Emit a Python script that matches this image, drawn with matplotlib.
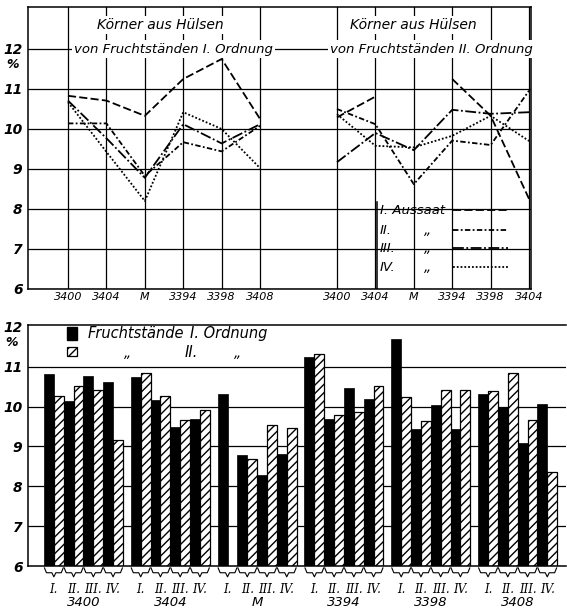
import numpy as np
import matplotlib.pyplot as plt
from matplotlib.patches import Rectangle
from matplotlib.transforms import blended_transform_factory

plt.rcParams['font.family'] = ['Liberation Sans Narrow', 'DejaVu Sans']
plt.rcParams['font.style'] = 'italic'
plt.rcParams['hatch.linewidth'] = 1.0

# Sorten (x-Achse)
sorten_1 = ['3400', '3404', 'M', '3394', '3398', '3408']
sorten_2 = ['3400', '3404', 'M', '3394', '3398', '3404']
aussaat = ['I.', 'II.', 'III.', 'IV.']

# oben links: Körner aus Hülsen von Fruchtständen I. Ordnung, je Aussaat
links_I = [10.83, 10.71, 10.33, 11.25, 11.75, 10.25]
links_II = [10.14, 10.14, 8.83, 9.67, 9.44, 10.08]
links_III = [10.71, 9.77, 8.78, 10.12, 9.64, 10.12]
links_IV = [10.67, 9.43, 8.20, 10.42, 10.00, 9.02]

# oben rechts: Fruchtstände II. Ordnung
rechts_I = [10.29, 10.81, np.nan, 11.25, 10.33, 8.25]
rechts_II = [10.50, 10.12, 8.62, 9.71, 9.60, 10.96]
rechts_III = [9.17, 9.90, 9.47, 10.48, 10.38, 10.42]
rechts_IV = [10.37, 9.58, 9.54, 9.83, 10.33, 9.70]

# unten: Säulen je Sorte (Zeilen) und Aussaat I.-IV. (Spalten)
fs1_werte = [
    [10.82, 10.15, 10.78, 10.63],
    [10.75, 10.16, 9.49, 9.68],
    [10.31, 8.78, 8.28, 8.80],
    [11.24, 9.70, 10.46, 10.18],
    [11.71, 9.45, 10.04, 9.45],
    [10.33, 10.00, 9.08, 10.07],
]
fs2_werte = [
    [10.26, 10.52, 10.42, 9.17],
    [10.85, 10.27, 9.66, 9.92],
    [np.nan, 8.69, 9.54, 9.46],
    [11.33, 9.78, 9.86, 10.53],
    [10.24, 9.65, 10.41, 10.41],
    [10.39, 10.84, 9.67, 8.36],
]

stile = [(0, (4.5, 1.8)), (0, (3, 1.3, 1, 1.3)), (0, (6, 1.4, 1, 1.4)), (0, (1, 1.1))]
lw = 1.3

fig = plt.figure(figsize=(5.67, 6.16), dpi=100)

# ---------- oberes Diagramm ----------
ax = fig.add_axes([28 / 567, 1 - 289 / 616, 503 / 567, 282 / 616])
xl = np.arange(6)
xr = np.arange(6) + 7
links = [links_I, links_II, links_III, links_IV]
rechts = [rechts_I, rechts_II, rechts_III, rechts_IV]
for i in range(4):
    ax.plot(xl, links[i], color='black', lw=lw, ls=stile[i])
    ax.plot(xr, rechts[i], color='black', lw=lw, ls=stile[i])

ax.set_xlim(-1.04, 12.05)
ax.set_ylim(6, 13.05)
ax.set_xticks(list(xl) + list(xr))
ax.set_xticklabels(sorten_1 + sorten_2, fontsize=8)
ax.set_yticks(range(6, 13))
ax.set_yticklabels([str(v) for v in range(6, 13)], fontsize=10, fontweight='bold')
ax.tick_params(length=0, pad=4)
ax.tick_params(axis='x', pad=2)
ax.grid(True, color='black', lw=0.9)
ax.set_axisbelow(True)
for s in ax.spines.values():
    s.set_linewidth(1.1)
ax.text(-0.03, 11.6, '%', transform=blended_transform_factory(ax.transAxes, ax.transData),
        ha='center', va='center', fontsize=9, fontweight='bold')

box = dict(facecolor='white', edgecolor='none', pad=1.5)
ax.text(2.4, 12.6, 'Körner aus Hülsen', ha='center', va='center', fontsize=10, bbox=box)
ax.text(2.75, 12.0, 'von Fruchtständen I. Ordnung', ha='center', va='center', fontsize=9.5, bbox=box)
ax.text(9.0, 12.6, 'Körner aus Hülsen', ha='center', va='center', fontsize=10, bbox=box)
ax.text(9.45, 12.0, 'von Fruchtständen II. Ordnung', ha='center', va='center', fontsize=9.5, bbox=box)

# Legende (Aussaat)
leg_y = [0.280, 0.209, 0.145, 0.078]
leg_txt = ['I. Aussaat', 'II.', 'III.', 'IV.']
ax.plot([0.694, 0.694], [0.0, 0.31], transform=ax.transAxes, color='black', lw=1.1)
for i in range(4):
    ax.text(0.699, leg_y[i], leg_txt[i], transform=ax.transAxes, ha='left', va='center', fontsize=9.5)
    if i > 0:
        ax.text(0.795, leg_y[i], '„', transform=ax.transAxes, ha='center', va='center', fontsize=10)
    ax.plot([0.845, 0.955], [leg_y[i], leg_y[i]], transform=ax.transAxes,
            color='black', lw=lw, ls=stile[i])

# ---------- unteres Diagramm ----------
bx = fig.add_axes([28 / 567, 1 - 566 / 616, 538 / 567, 241 / 616])
gruppen = np.arange(6) * 8.8
fs1 = np.array(fs1_werte)
fs2 = np.array(fs2_werte)
mitten = []
for k in range(4):
    xs = gruppen + 2 * k + 0.5
    xh = gruppen + 2 * k + 1.5
    bx.bar(xs, fs1[:, k] - 6, bottom=6, width=1.0, color='black', edgecolor='black', lw=0.5)
    ok = np.isfinite(fs2[:, k])
    bx.bar(xh[ok], fs2[ok, k] - 6, bottom=6, width=1.0, color='white', edgecolor='black',
           hatch='////', lw=0.9)
    mitten.append(gruppen + 2 * k + 1)
mitten = np.sort(np.concatenate(mitten))

bx.set_xlim(-1.62, 52.9)
bx.set_ylim(6, 12.05)
bx.set_yticks(range(6, 13))
bx.set_yticklabels([str(v) for v in range(6, 13)], fontsize=10, fontweight='bold')
bx.set_xticks(mitten)
bx.set_xticklabels(aussaat * 6, fontsize=8.5, family=['DejaVu Serif'])
bx.tick_params(length=0, pad=4)
bx.tick_params(axis='x', pad=12)
for v in range(7, 12):
    bx.axhline(v, color='black', lw=0.9, zorder=0)
bx.spines['right'].set_visible(False)
for s in bx.spines.values():
    s.set_linewidth(1.1)
bx.text(-0.03, 11.62, '%', transform=blended_transform_factory(bx.transAxes, bx.transData),
        ha='center', va='center', fontsize=9, fontweight='bold')

# Klammern unter den Säulenpaaren
tr = blended_transform_factory(bx.transData, bx.transAxes)
for c in mitten:
    bx.plot([c - 0.95, c - 0.75, c - 0.2, c, c + 0.2, c + 0.75, c + 0.95],
            [-0.008, -0.028, -0.028, -0.045, -0.028, -0.028, -0.008],
            transform=tr, color='black', lw=0.8, clip_on=False)
for g, name in zip(gruppen, sorten_1):
    bx.text(g + 4, -0.15, name, transform=tr, ha='center', va='center', fontsize=9.5)

# Legende (Fruchtstände)
bx.add_patch(Rectangle((0.0725, 0.938), 0.0186, 0.054, transform=bx.transAxes,
                       facecolor='black', edgecolor='black', clip_on=False))
bx.add_patch(Rectangle((0.0725, 0.871), 0.0186, 0.038, transform=bx.transAxes,
                       facecolor='white', edgecolor='black', hatch='////', lw=0.9, clip_on=False))
bx.text(0.110, 0.963, 'Fruchtstände', transform=bx.transAxes, ha='left', va='center', fontsize=10.5)
bx.text(0.301, 0.963, 'I. Ordnung', transform=bx.transAxes, ha='left', va='center', fontsize=10.5)
bx.text(0.186, 0.884, '„', transform=bx.transAxes, ha='center', va='center', fontsize=10)
bx.text(0.292, 0.884, 'II.', transform=bx.transAxes, ha='left', va='center', fontsize=10.5)
bx.text(0.390, 0.884, '„', transform=bx.transAxes, ha='center', va='center', fontsize=10)

fig.savefig('out.png', dpi=100, facecolor='white')
